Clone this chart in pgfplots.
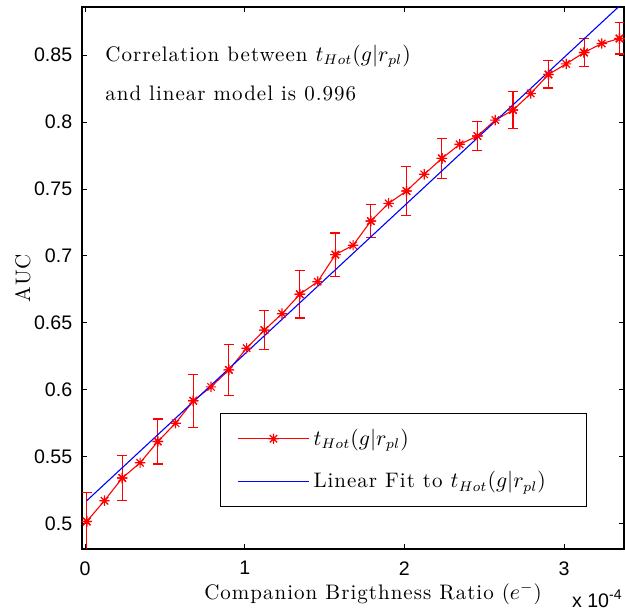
\documentclass[border=0pt]{standalone}
\usepackage{pgfplots}
\pgfplotsset{compat=1.18}
\usepackage{fontspec}
\newfontfamily\helv{Liberation Sans}
\newfontfamily\lmsp{lmroman10-regular.otf}[LetterSpace=4.8]
\newcommand\txt{\lmsp\fontsize{10.5bp}{12bp}\selectfont}
\newcommand\tck{\helv\fontsize{9.8bp}{11bp}\selectfont}
\pgfdeclareplotmark{mstar}{%
 \pgfpathmoveto{\pgfqpoint{-\pgfplotmarksize}{0pt}}%
 \pgfpathlineto{\pgfqpoint{\pgfplotmarksize}{0pt}}%
 \pgfpathmoveto{\pgfqpoint{0pt}{-\pgfplotmarksize}}%
 \pgfpathlineto{\pgfqpoint{0pt}{\pgfplotmarksize}}%
 \pgfpathmoveto{\pgfqpoint{-0.707\pgfplotmarksize}{-0.707\pgfplotmarksize}}%
 \pgfpathlineto{\pgfqpoint{0.707\pgfplotmarksize}{0.707\pgfplotmarksize}}%
 \pgfpathmoveto{\pgfqpoint{-0.707\pgfplotmarksize}{0.707\pgfplotmarksize}}%
 \pgfpathlineto{\pgfqpoint{0.707\pgfplotmarksize}{-0.707\pgfplotmarksize}}%
 \pgfusepathqstroke}
\begin{document}
\begin{tikzpicture}
\begin{axis}[name=ax, scale only axis, width=271bp, height=271bp,
 xmin=-0.0188, xmax=3.375, ymin=0.4811, ymax=0.886,
 xtick={0,1,2,3}, ytick={0.5,0.55,0.6,0.65,0.7,0.75,0.8,0.85},
 scaled ticks=false,
 tick align=inside, tick pos=both, major tick length=2.4bp,
 axis line style={line width=0.8bp},
 every tick/.style={black, line width=0.5bp},
 /pgf/number format/assume math mode=true,
 tick label style={font=\tck},
 xticklabel style={yshift=-2.7bp}, yticklabel style={xshift=-1.4bp},
 xlabel={Companion Brigthness Ratio ($e^-$)},
 xlabel style={at={(axis description cs:0.537,-0.0923)}, anchor=base, font=\txt},
 ylabel={AUC},
 ylabel style={at={(axis description cs:-0.0959,0.5)}, anchor=base, font=\txt},
 legend style={at={(0.9317,0.078)}, anchor=south east, draw=black, line width=0.5bp,
   inner xsep=8.5bp, inner ysep=5.75bp, row sep=7.5bp, font=\txt},
 legend cell align=left,
 legend image code/.code={\draw[mark repeat=2,mark phase=2,#1] plot coordinates {(0bp,0bp) (17.75bp,0bp) (35.5bp,0bp)};},
]
\addplot[red, line width=0.55bp, only marks, mark=mstar, mark size=2.6bp, mark options={solid, line width=0.6bp}, forget plot,
  error bars/.cd, y dir=both, y explicit,
  error bar style={red, solid, line width=0.55bp},
  error mark options={rotate=90, red, mark size=2.5bp, line width=0.55bp}]
 coordinates {
 (0.011,0.5017) +- (0,0.0217)
 (0.233,0.5341) +- (0,0.0167)
 (0.456,0.5614) +- (0,0.0168)
 (0.678,0.5918) +- (0,0.0197)
 (0.901,0.6149) +- (0,0.0192)
 (1.123,0.6446) +- (0,0.0147)
 (1.345,0.6714) +- (0,0.0177)
 (1.568,0.7010) +- (0,0.0162)
 (1.790,0.7261) +- (0,0.0125)
 (2.013,0.7485) +- (0,0.0183)
 (2.235,0.7729) +- (0,0.0149)
 (2.457,0.7896) +- (0,0.0106)
 (2.680,0.8090) +- (0,0.0136)
 (2.902,0.8356) +- (0,0.0101)
 (3.125,0.8520) +- (0,0.0102)
 (3.347,0.8625) +- (0,0.0116)
 };
\addplot[red, line width=0.55bp, mark=mstar, mark size=2.6bp, mark options={solid, line width=0.6bp}]
 coordinates {
 (0.011,0.5017) (0.122,0.5172) (0.233,0.5341) (0.345,0.5455) (0.456,0.5614)
 (0.567,0.5751) (0.678,0.5918) (0.789,0.6022) (0.901,0.6149) (1.012,0.6311)
 (1.123,0.6446) (1.234,0.6569) (1.345,0.6714) (1.457,0.6808) (1.568,0.7010)
 (1.679,0.7080) (1.790,0.7261) (1.901,0.7393) (2.013,0.7485) (2.124,0.7610)
 (2.235,0.7729) (2.346,0.7834) (2.457,0.7896) (2.569,0.8015) (2.680,0.8090)
 (2.791,0.8214) (2.902,0.8356) (3.013,0.8435) (3.125,0.8520) (3.236,0.8587)
 (3.347,0.8625)
 };
\addlegendentry{\makebox[126bp][l]{$t_{Hot}(g|r_{pl})$}}
\addplot[blue, line width=0.55bp] coordinates {(0.011,0.5172) (3.347,0.8868)};
\addlegendentry{\makebox[126bp][l]{Linear Fit to $t_{Hot}(g|r_{pl})$}}
\node[anchor=base west, inner sep=0, font=\txt] at (rel axis cs:0.0424,0.900) {Correlation between $t_{Hot}(g|r_{pl})$};
\node[anchor=base west, inner sep=0, font=\txt] at (rel axis cs:0.0424,0.827) {and linear model is 0.996};
\end{axis}
\node[anchor=north east, inner sep=0, font=\tck] at ([xshift=-1bp,yshift=-20bp]ax.south east) {x 10\raisebox{0.8ex}{\fontsize{7bp}{8bp}\selectfont -4}};
\pgfresetboundingbox
\path[use as bounding box] ([xshift=-41bp,yshift=-32.5bp]ax.south west) rectangle ([xshift=0.5bp,yshift=3.5bp]ax.north east);
\end{tikzpicture}
\end{document}
